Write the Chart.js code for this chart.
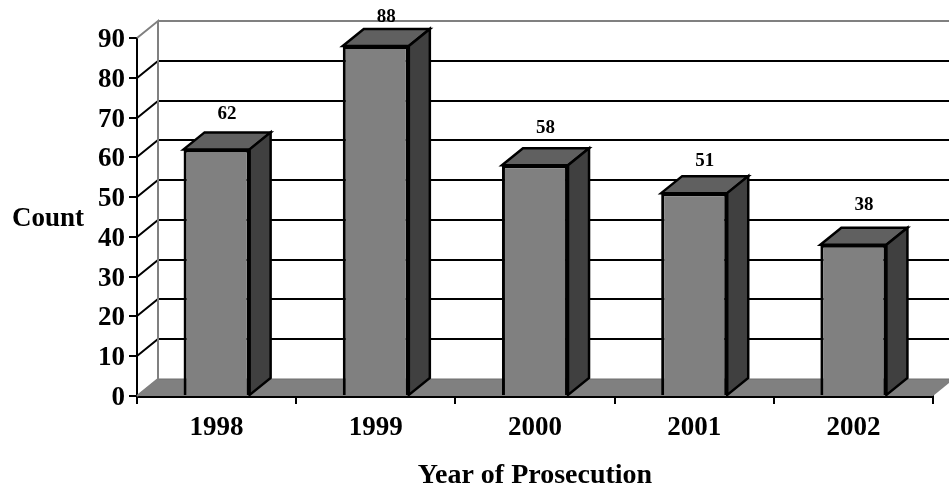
<!DOCTYPE html>
<html>
<head>
<meta charset="utf-8">
<style>
body { margin: 0; background: #fff; }
canvas { display: block; }
</style>
<script src="https://cdn.jsdelivr.net/npm/chart.js@4"></script>
</head>
<body>
<canvas id="prosecution-chart" width="949" height="490"></canvas>
<script>
var years = ['1998', '1999', '2000', '2001', '2002'];
var counts = [62, 88, 58, 51, 38];
var yTickValues = [0, 10, 20, 30, 40, 50, 60, 70, 80, 90];
var yTitle = 'Count';
var xTitle = 'Year of Prosecution';

// how far each value label floats above the back edge of its bar
var labelLift = [18, 12, 20, 15, 23];

var depthX = 21;
var depthY = -17;
var fontName = '"Liberation Serif", "Times New Roman", serif';

function poly(ctx, pts, fill, stroke, lw) {
    ctx.beginPath();
    ctx.moveTo(pts[0][0], pts[0][1]);
    for (var i = 1; i < pts.length; i++) {
        ctx.lineTo(pts[i][0], pts[i][1]);
    }
    if (fill) {
        ctx.closePath();
        ctx.fillStyle = fill;
        ctx.fill();
    }
    if (stroke) {
        ctx.strokeStyle = stroke;
        ctx.lineWidth = lw;
        ctx.lineJoin = 'miter';
        ctx.stroke();
    }
}

var boxPlugin = {
    id: 'box3d',
    beforeDatasetsDraw: function(chart) {
        var ctx = chart.ctx;
        var a = chart.chartArea;
        var yScale = chart.scales.y;
        var base = yScale.getPixelForValue(0);
        var top = yScale.getPixelForValue(90);
        ctx.save();
        // floor
        poly(ctx, [[a.left, base], [a.left + depthX, base + depthY], [a.right + depthX, base + depthY], [a.right, base]], '#808080');
        poly(ctx, [[a.left, base], [a.left + depthX, base + depthY], [a.right + depthX, base + depthY]], null, '#6e6e6e', 1);
        // gridlines on the back wall and side wall
        yTickValues.forEach(function(v) {
            if (v === 0 || v === 90) return;
            var y = Math.round(yScale.getPixelForValue(v));
            poly(ctx, [[a.left, y], [a.left + depthX, y + depthY], [a.right + depthX, y + depthY]], null, '#000', 2);
        });
        // wall edge
        poly(ctx, [[a.left, base], [a.left + depthX, base + depthY], [a.left + depthX, top + depthY], [a.left, top]], null, '#808080', 2);
        poly(ctx, [[a.left + depthX, top + depthY], [a.right + depthX, top + depthY]], null, '#808080', 2);
        ctx.restore();
    },
    afterDatasetsDraw: function(chart) {
        var ctx = chart.ctx;
        var bars = chart.getDatasetMeta(0).data;
        var yScale = chart.scales.y;
        ctx.save();
        bars.forEach(function(bar, i) {
            var half = bar.width / 2;
            var l = bar.x - half, r = bar.x + half, t = bar.y, b = bar.base;
            poly(ctx, [[l, t], [l + depthX, t + depthY], [r + depthX, t + depthY], [r, t]], '#606060', '#000', 2.5);
            poly(ctx, [[r, t], [r + depthX, t + depthY], [r + depthX, b + depthY], [r, b]], '#404040', '#000', 2.5);
            ctx.fillStyle = '#000';
            ctx.font = 'bold 19px ' + fontName;
            ctx.textAlign = 'center';
            ctx.textBaseline = 'middle';
            ctx.fillText(String(counts[i]), bar.x + depthX / 2, t + depthY - labelLift[i]);
        });
        // y tick labels sit a little under the tick, so they are placed here
        ctx.font = 'bold 27px ' + fontName;
        ctx.textAlign = 'right';
        ctx.textBaseline = 'alphabetic';
        yScale.ticks.forEach(function(tick) {
            ctx.fillText(String(tick.value), 125, yScale.getPixelForValue(tick.value) + 9);
        });
        ctx.textAlign = 'left';
        ctx.fillText(yTitle, 12, 226);
        ctx.restore();
    }
};

var chartCanvas = document.getElementById('prosecution-chart').getContext('2d');
new Chart(chartCanvas, {
    type: 'bar',
    data: {
        labels: years,
        datasets: [{
            label: yTitle,
            data: counts,
            backgroundColor: '#808080',
            borderColor: '#000',
            borderWidth: 3,
            barPercentage: 0.415,
            categoryPercentage: 1
        }]
    },
    options: {
        responsive: false,
        animation: false,
        layout: { padding: { top: 38, right: 16, left: 0, bottom: 0 } },
        plugins: { legend: { display: false }, tooltip: { enabled: false } },
        scales: {
            x: {
                z: 1,
                afterFit: function(s) { s.height = 94; },
                grid: { drawOnChartArea: false, color: '#000', lineWidth: 2, tickLength: 8 },
                border: { color: '#000', width: 3 },
                ticks: { color: '#000', padding: 8, font: { family: fontName, size: 27, weight: 'bold' }, maxRotation: 0 },
                title: { display: true, text: xTitle, color: '#000', padding: { top: 10, bottom: 0 }, font: { family: fontName, size: 28, weight: 'bold', lineHeight: 1.05 } }
            },
            y: {
                z: 1,
                min: 0,
                max: 90,
                afterFit: function(s) { s.width = 137; },
                grid: { drawOnChartArea: false, color: '#000', lineWidth: 2, tickLength: 8 },
                border: { color: '#000', width: 2 },
                ticks: { display: false, stepSize: 10 }
            }
        }
    },
    plugins: [boxPlugin]
});
</script>
</body>
</html>
